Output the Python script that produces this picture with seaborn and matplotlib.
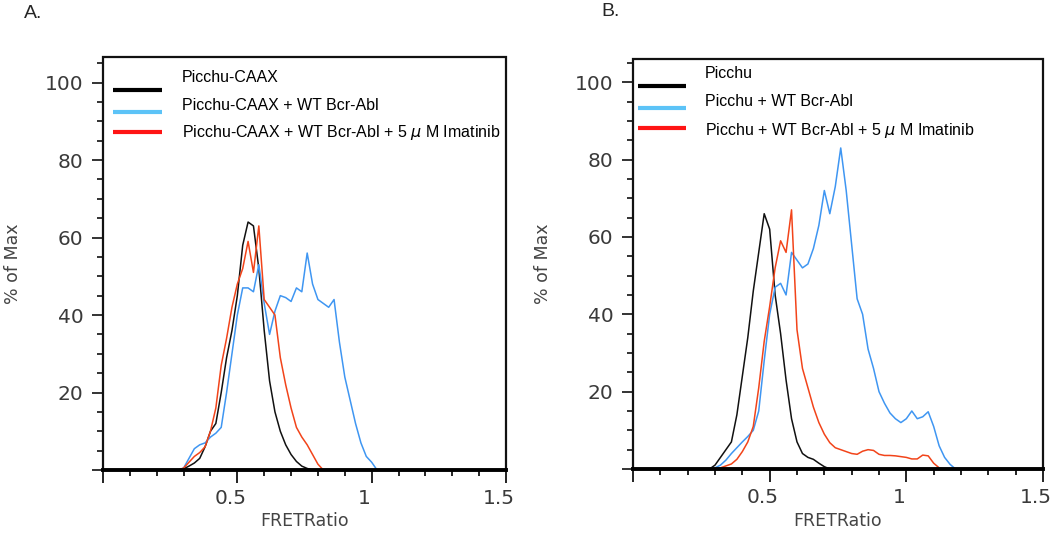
import numpy as np
import pandas as pd
import matplotlib
matplotlib.use("Agg")
import matplotlib.pyplot as plt
import matplotlib.transforms as mtrans
from matplotlib.ticker import MultipleLocator, FixedLocator
import seaborn as sns

# ---------------- data (histogram bin centres every 0.02 FRET ratio) -------------
BIN = 0.02

# Panel A
a_black_start = 0.28
a_black = [0, 0.3, 1, 1.8, 3, 6, 10, 12, 20, 29, 36, 45, 58, 64, 63, 52, 36, 23,
           15, 10, 6.5, 4, 2.2, 1, 0.4, 0]
a_blue_start = 0.28
a_blue = [0, 0.5, 3, 5.5, 6.5, 7, 8.5, 9.5, 11, 20, 30, 40, 47, 47, 46, 53, 43, 35,
          41, 45, 44.5, 43.5, 47, 46, 56, 48, 44, 43, 42, 44, 33, 24, 18, 12, 7,
          3.5, 2, 0]
a_red_start = 0.28
a_red = [0, 0.5, 2, 3.5, 4.5, 6, 10, 16, 27, 34, 42, 48, 52, 59, 51, 63, 44, 42,
         40, 29, 22, 16, 11, 8.5, 6.5, 4, 1.5, 0]

# Panel B
b_black_start = 0.28
b_black = [0, 1, 3, 5, 7, 14, 24, 34, 46, 56, 66, 62, 45, 35, 23, 13, 7, 4, 3,
           2.5, 1.5, 0.6, 0]
b_blue_start = 0.28
b_blue = [0, 0.3, 1, 2.3, 4, 5.5, 7, 8.4, 10, 15, 28, 40, 47, 48, 45, 56, 54, 52,
          53, 57, 63, 72, 66, 73, 83, 72, 58, 44, 40, 31, 26, 20, 17, 14.5, 13,
          12, 13, 15, 13, 13.5, 14.8, 11, 6, 3, 1.2, 0]
b_red_start = 0.30
b_red = [0, 0.3, 0.8, 1.3, 2.5, 4.5, 7, 11, 21, 33, 42, 52, 59, 56, 67, 36, 26,
         21, 16, 12, 9, 6.8, 5.5, 5, 4.5, 4, 3.8, 4.6, 5, 4.8, 3.8, 3.5, 3.5,
         3.4, 3.2, 3.0, 2.6, 2.6, 3.6, 3.4, 1.5, 0.3, 0]

labels_a = ["Picchu-CAAX", "Picchu-CAAX + WT Bcr-Abl",
            "Picchu-CAAX + WT Bcr-Abl + 5 $\\mu$ M Imatinib"]
labels_b = ["Picchu", "Picchu + WT Bcr-Abl",
            "Picchu + WT Bcr-Abl + 5 $\\mu$ M Imatinib"]
x_ticklabels = ["", "0.5", "1", "1.5"]
y_ticklabels = ["", "20", "40", "60", "80", "100"]

# ---------------- style ----------------
CURVE = ["#111111", "#3f96f2", "#f2441a"]
LEG = ["#000000", "#5cc3f7", "#ff1414"]

sns.set_style("ticks")
plt.rcParams["font.family"] = ["DejaVu Sans"]
plt.rcParams["axes.edgecolor"] = "#111111"
plt.rcParams["axes.linewidth"] = 1.3

fig = plt.figure(figsize=(10.5, 5.46), dpi=100, facecolor="white")
W, H = 1050, 546


def series_df(start, vals):
    x = start + BIN * np.arange(len(vals))
    return pd.DataFrame({"x": np.round(x, 4), "y": vals})


def make_panel(rect_px, ylim_top, series, labels, leg):
    l, t, r, b = rect_px
    ax = fig.add_axes([l / W, 1 - b / H, (r - l) / W, (b - t) / H])
    for (start, vals), c in zip(series, CURVE):
        df = series_df(start, vals)
        sns.lineplot(data=df, x="x", y="y", ax=ax, color=c, lw=1.1,
                     estimator=None, sort=True, zorder=3)
    ax.set_xlim(0, 1.5)
    ax.set_ylim(0, ylim_top)
    # frame (left, top, right) drawn as a plain line along the axes limits
    x0, x1 = ax.get_xlim()
    y0, y1 = ax.get_ylim()
    ax.plot([x0, x0, x1, x1], [y0, y1, y1, y0], color="#111111", lw=1.6,
            clip_on=False, zorder=6, solid_joinstyle="miter")
    ax.set_xlim(x0, x1)
    ax.set_ylim(y0, y1)
    ax.spines["bottom"].set_linewidth(2.8)
    ax.spines["bottom"].set_color("#000000")
    ax.spines["bottom"].set_zorder(7)

    ax.xaxis.set_major_locator(FixedLocator([0, 0.5, 1.0, 1.5]))
    ax.set_xticklabels(x_ticklabels)
    ax.xaxis.set_minor_locator(MultipleLocator(0.1))
    ax.yaxis.set_major_locator(FixedLocator([0, 20, 40, 60, 80, 100]))
    ax.set_yticklabels(y_ticklabels)
    ax.yaxis.set_minor_locator(MultipleLocator(5))
    ax.tick_params(axis="x", which="major", length=9, width=1.3, pad=5,
                   labelsize=14.5, labelcolor="#3a3a3a", color="#111111")
    ax.tick_params(axis="x", which="minor", length=4.5, width=1.3, color="#111111")
    ax.tick_params(axis="y", which="major", length=8, width=1.2, pad=6,
                   labelsize=14.5, labelcolor="#3a3a3a", color="#111111")
    ax.tick_params(axis="y", which="minor", length=4, width=1.2, color="#111111")
    shift = mtrans.ScaledTranslation(-7 / 100, 0, fig.dpi_scale_trans)
    for lab in ax.get_xticklabels():
        lab.set_transform(lab.get_transform() + shift)

    ax.set_xlabel("FRETRatio", fontsize=12.5, color="#444444")
    ax.set_ylabel("% of Max", fontsize=12.5, color="#444444")
    hpx = b - t
    wpx = r - l
    ax.xaxis.set_label_coords(0.5, (b - 521) / hpx)
    ax.yaxis.set_label_coords(leg["ylab_x"] / wpx, 0.5)
    ax.yaxis.label.set_va("center")
    ax.xaxis.label.set_va("center")

    # manual legend (lines and text are offset as in the original)
    for i, (lab, c) in enumerate(zip(labels, LEG)):
        ly = (b - leg["line_y"][i]) / hpx
        ax.plot([(leg["x0"] - l) / wpx, (leg["x1"] - l) / wpx], [ly, ly],
                transform=ax.transAxes, color=c, lw=3, solid_capstyle="butt",
                clip_on=False)
        ty = (b - leg["text_y"][i]) / hpx
        ax.text((leg["tx"] - l) / wpx, ty, lab, transform=ax.transAxes,
                fontsize=11.5, family=["Liberation Sans", "DejaVu Sans"],
                va="center", ha="left", color="#000000")
    return ax


axA = make_panel((103, 57, 506, 470), 106.6,
                 [(a_black_start, a_black), (a_blue_start, a_blue), (a_red_start, a_red)],
                 labels_a,
                 dict(x0=113, x1=162, tx=182, line_y=[90, 112, 132],
                      text_y=[77, 105, 133], ylab_x=13 - 103))
axB = make_panel((633, 59, 1043, 469), 106.0,
                 [(b_black_start, b_black), (b_blue_start, b_blue), (b_red_start, b_red)],
                 labels_b,
                 dict(x0=638, x1=686, tx=705, line_y=[86, 108, 128],
                      text_y=[73, 102, 130], ylab_x=543 - 633))

fig.text(24 / W, 1 - 13 / H, "A.", fontsize=14, family="Liberation Sans",
         va="center", ha="left")
fig.text(601 / W, 1 - 12 / H, "B.", fontsize=14, family="Liberation Sans",
         va="center", ha="left")

fig.savefig("out.png", dpi=100, facecolor="white")
